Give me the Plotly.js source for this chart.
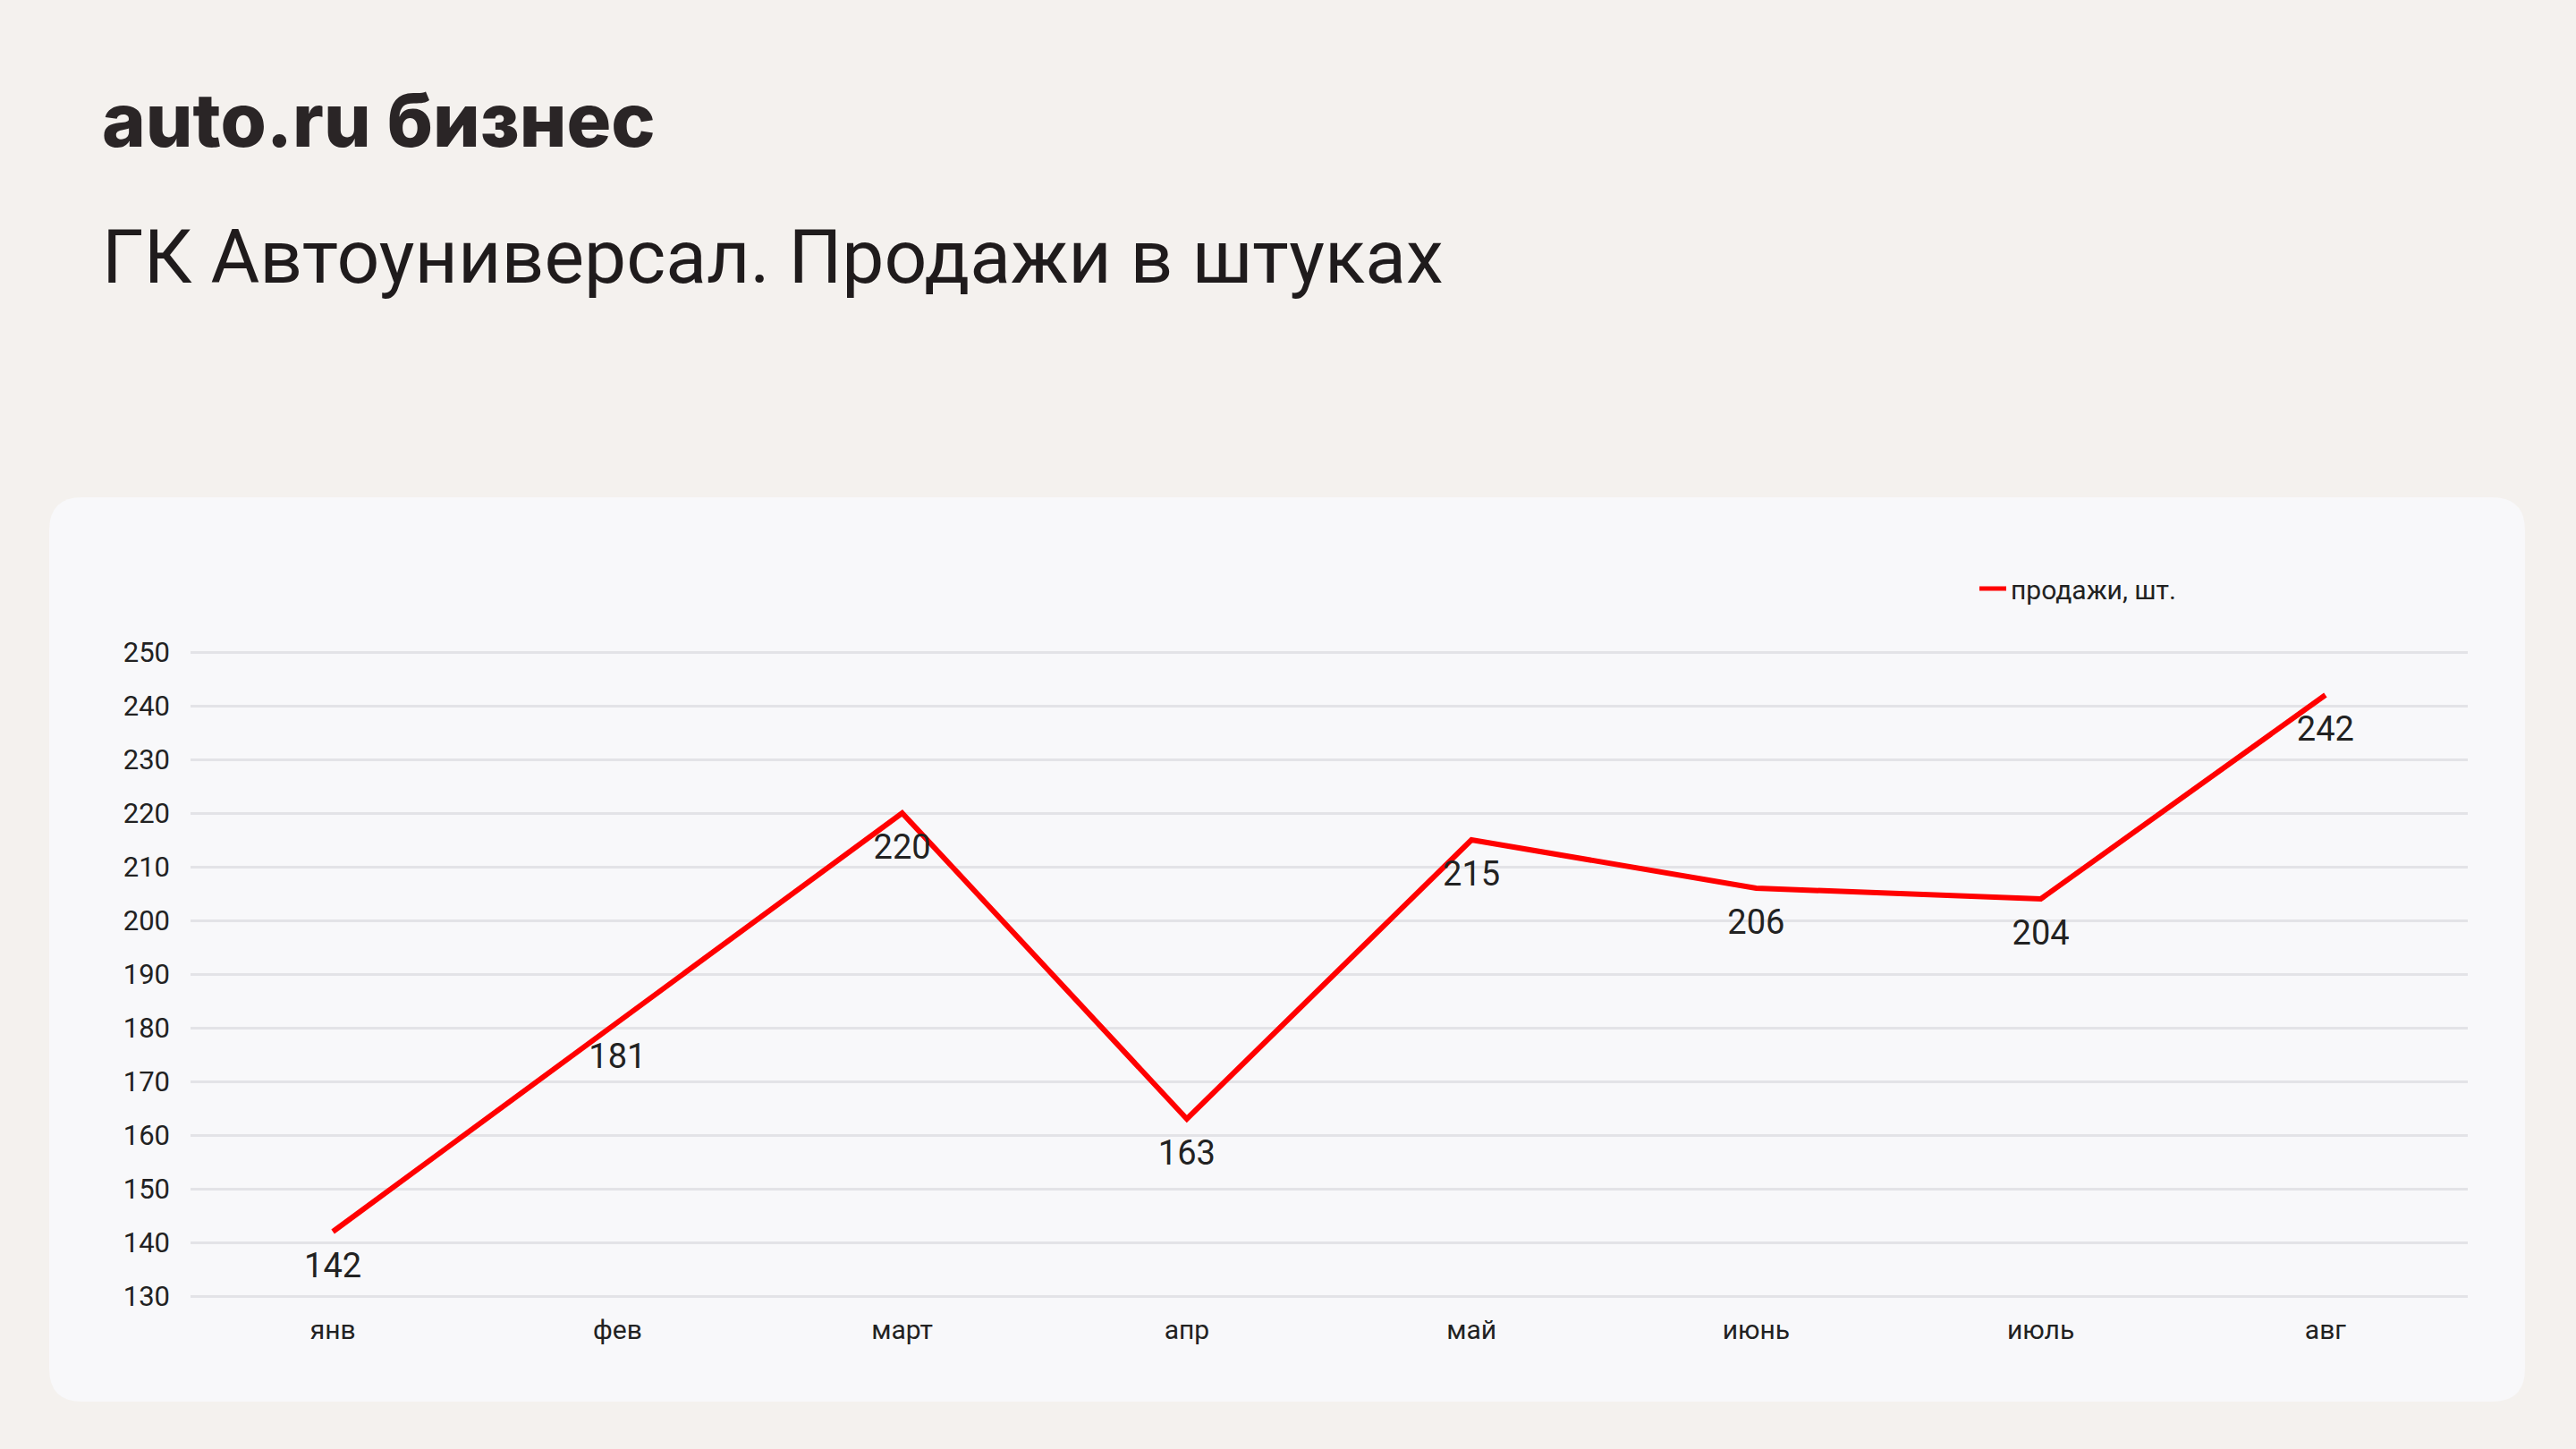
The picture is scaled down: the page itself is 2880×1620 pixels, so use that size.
<!DOCTYPE html>
<html>
<head>
<meta charset="utf-8">
<script src="https://cdn.plot.ly/plotly-3.0.1.min.js"></script>
<style>
  html, body { margin: 0; padding: 0; background: #f4f1ee; }
  #chart { width: 2880px; height: 1620px; }
</style>
</head>
<body>
<div id="chart"></div>
<script>
// monthly sales, pieces
var months = ['янв', 'фев', 'март', 'апр', 'май', 'июнь', 'июль', 'авг'];
var sales = [142, 181, 220, 163, 215, 206, 204, 242];
var yTicks = [130, 140, 150, 160, 170, 180, 190, 200, 210, 220, 230, 240, 250];

var W = 2880, H = 1620;
// plot area in pixels
var plotL = 213, plotR = 2759, plotT = 726, plotB = 1452;

function px(x) { return (x - plotL) / (plotR - plotL); }
function py(y) { return (plotB - y) / (plotB - plotT); }

// rounded panel behind the chart, path in paper coords
function roundedRect(x0, y0, x1, y1, r) {
    var p = 'M' + px(x0 + r) + ',' + py(y0);
    p += ' L' + px(x1 - r) + ',' + py(y0);
    p += ' Q' + px(x1) + ',' + py(y0) + ' ' + px(x1) + ',' + py(y0 + r);
    p += ' L' + px(x1) + ',' + py(y1 - r);
    p += ' Q' + px(x1) + ',' + py(y1) + ' ' + px(x1 - r) + ',' + py(y1);
    p += ' L' + px(x0 + r) + ',' + py(y1);
    p += ' Q' + px(x0) + ',' + py(y1) + ' ' + px(x0) + ',' + py(y1 - r);
    p += ' L' + px(x0) + ',' + py(y0 + r);
    p += ' Q' + px(x0) + ',' + py(y0) + ' ' + px(x0 + r) + ',' + py(y0) + ' Z';
    return p;
}

var trace = {
    x: months,
    y: sales,
    type: 'scatter',
    mode: 'lines+markers+text',
    name: 'продажи, шт.',
    text: sales.map(String),
    textposition: 'bottom center',
    textfont: { family: 'Roboto, sans-serif', size: 38, color: '#222222' },
    line: { color: '#ff0000', width: 6 },
    // invisible markers only push the labels down
    marker: { size: 34, color: 'rgba(0,0,0,0)' },
    cliponaxis: false
};

var layout = {
    width: W,
    height: H,
    paper_bgcolor: '#f4f1ee',
    plot_bgcolor: 'rgba(0,0,0,0)',
    margin: { l: plotL, r: W - plotR, t: plotT, b: H - plotB, pad: 0, autoexpand: false },
    showlegend: true,
    legend: {
        xref: 'container', yref: 'container',
        x: 2208 / W, y: 1 - 658 / H,
        xanchor: 'left', yanchor: 'middle',
        bgcolor: 'rgba(0,0,0,0)',
        itemsizing: 'constant',
        font: { family: 'Roboto, sans-serif', size: 30, color: '#222222' }
    },
    xaxis: {
        type: 'category',
        range: [-0.5, 7.5],
        showgrid: false,
        zeroline: false,
        showline: false,
        ticks: '',
        ticklabelstandoff: 14,
        tickfont: { family: 'Roboto, sans-serif', size: 30, color: '#222222' },
        fixedrange: true
    },
    yaxis: {
        range: [129.5, 250.5],
        tickvals: yTicks,
        showgrid: true,
        gridcolor: '#e3e3e7',
        gridwidth: 3,
        zeroline: false,
        showline: false,
        ticks: '',
        ticklabelstandoff: 22,
        tickfont: { family: 'Roboto, sans-serif', size: 31, color: '#222222' },
        fixedrange: true
    },
    shapes: [{
        type: 'path',
        xref: 'paper', yref: 'paper',
        path: roundedRect(55, 556, 2823, 1567, 37),
        fillcolor: '#f8f8fa',
        line: { width: 0 },
        layer: 'below'
    }],
    annotations: [
        {
            xref: 'paper', yref: 'paper',
            x: px(112), y: py(134),
            xanchor: 'left', yanchor: 'middle',
            text: 'auto.ru бизнес',
            showarrow: false,
            font: { family: 'Inter, sans-serif', size: 83, weight: 800, color: '#2a2526' }
        },
        {
            xref: 'paper', yref: 'paper',
            x: px(112), y: py(287),
            xanchor: 'left', yanchor: 'middle',
            text: 'ГК Автоуниверсал. Продажи в штуках',
            showarrow: false,
            font: { family: 'Roboto, sans-serif', size: 84, color: '#1f1b1c' }
        }
    ]
};

Plotly.newPlot('chart', [trace], layout, { staticPlot: true, displayModeBar: false });
</script>
</body>
</html>
